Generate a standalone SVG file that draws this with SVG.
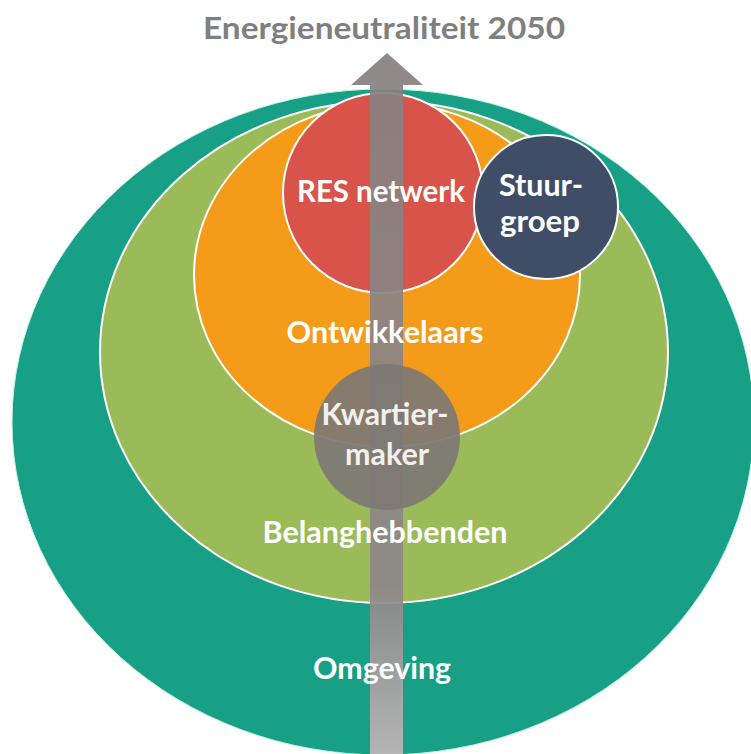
<svg xmlns="http://www.w3.org/2000/svg" width="751" height="754" viewBox="0 0 751 754">
<style>
.lbl{font-family:Lato,"Open Sans","Liberation Sans",sans-serif;font-weight:bold;font-size:30px;fill:#ffffff;text-anchor:middle}
.ring{stroke:#ffffff;stroke-width:2}
.title{font-family:Lato,"Open Sans","Liberation Sans",sans-serif;font-weight:bold;font-size:30px;fill:#7f7f7f;text-anchor:middle}
</style>
<defs>
<linearGradient id="shaft" x1="0" y1="0" x2="0" y2="1">
<stop offset="0" stop-color="#878182"/>
<stop offset="0.75" stop-color="#8c8788"/>
<stop offset="1" stop-color="#c2b6b8"/>
</linearGradient>
</defs>
<rect width="751" height="754" fill="#ffffff"/>
<text class="title" x="384" y="39" textLength="362" lengthAdjust="spacingAndGlyphs">Energieneutraliteit 2050</text>
<g id="omgeving">
<ellipse cx="383" cy="422" rx="371" ry="333" fill="#17a085" stroke="#c4f2ea" stroke-width="1"/>
</g>
<g id="belanghebbenden">
<ellipse class="ring" cx="384" cy="352" rx="284" ry="251" fill="#9bbb59"/>
</g>
<g id="ontwikkelaars">
<ellipse class="ring" cx="387" cy="275" rx="193" ry="172" fill="#f49c1a"/>
</g>
<g id="res-netwerk">
<circle class="ring" cx="383" cy="193" r="100" fill="#d8544a"/>
</g>
<g id="stuurgroep">
<circle class="ring" cx="546" cy="207" r="72" fill="#3f4d66"/>
</g>
<g id="connectors">
<g id="arrow" opacity="0.92">
<rect x="370" y="84" width="33" height="670" fill="url(#shaft)"/>
<polygon points="387,53 423,85 351,85" fill="#878182"/>
</g>
</g>
<g id="kwartiermaker">
<circle cx="387" cy="437" r="73" fill="#7e7875" opacity="0.93"/>
</g>
<g id="labels">
<text class="lbl" x="381" y="202" textLength="168" lengthAdjust="spacingAndGlyphs">RES netwerk</text>
<text class="lbl" x="541" y="196" textLength="84" lengthAdjust="spacingAndGlyphs">Stuur-</text>
<text class="lbl" x="540" y="232" textLength="80" lengthAdjust="spacingAndGlyphs">groep</text>
<text class="lbl" x="385" y="343" textLength="197" lengthAdjust="spacingAndGlyphs">Ontwikkelaars</text>
<text class="lbl" x="385" y="425" fill="#f4f1ec" style="fill:#f4f1ec" textLength="127" lengthAdjust="spacingAndGlyphs">Kwartier-</text>
<text class="lbl" x="387" y="465" style="fill:#f4f1ec" textLength="84" lengthAdjust="spacingAndGlyphs">maker</text>
<text class="lbl" x="385" y="543" textLength="245" lengthAdjust="spacingAndGlyphs">Belanghebbenden</text>
<text class="lbl" x="382" y="679" textLength="138" lengthAdjust="spacingAndGlyphs">Omgeving</text>
</g>
</svg>
